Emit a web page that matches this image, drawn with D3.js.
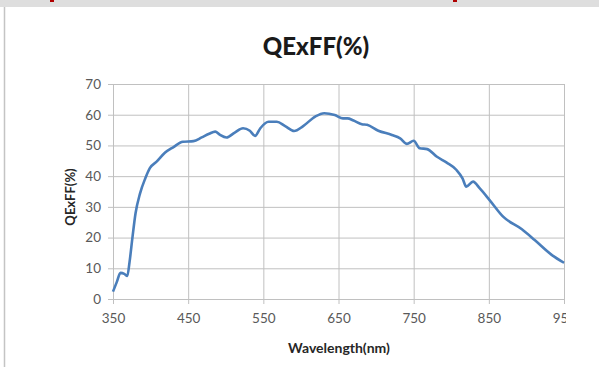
<!DOCTYPE html>
<html>
<head>
<meta charset="utf-8">
<script src="https://cdn.jsdelivr.net/npm/d3@7"></script>
<style>
    body { margin: 0; background: #fff; }
    text { font-family: Lato, "Open Sans", sans-serif; }
</style>
</head>
<body>
<div id="chart"></div>
<script>
// wavelength (nm)
var wavelengths = [350, 355, 360, 365, 369, 372, 376, 380, 386, 393, 399, 408, 419, 430, 443, 457, 468, 478, 486, 492,
    501, 512, 523, 532, 539, 546, 557, 568, 579, 591, 603, 619, 631, 645, 656, 662, 670, 681, 688, 703,
    721, 732, 741, 750, 758, 768, 781, 794, 807, 815, 820, 829, 838, 851, 869, 894, 911, 934, 950];
// QExFF in %
var qeValues = [2.4, 5.5, 8.5, 8.2, 7.5, 12, 20.3, 27.9, 34.4, 39.3, 42.6, 44.7, 47.6, 49.4, 51.2, 51.4, 52.6, 53.8, 54.5, 53.5,
    52.6, 54.2, 55.6, 54.8, 53.1, 55.6, 57.7, 57.7, 56.3, 54.7, 56.3, 59.4, 60.5, 59.9, 58.8, 58.8, 58.1, 56.9, 56.7, 54.8,
    53.4, 52.3, 50.5, 51.5, 49.1, 48.8, 46.3, 44.4, 42.0, 39.3, 36.6, 38.2, 36.0, 32.2, 26.8, 22.7, 19.2, 14.3, 11.8];

var xTicks = [350, 450, 550, 650, 750, 850, 950];
var yTicks = [0, 10, 20, 30, 40, 50, 60, 70];

var chartTitle = "QExFF(%)";
var xTitle = "Wavelength(nm)";
var yTitle = "QExFF(%)";

var data = wavelengths.map(function (w, i) { return { wl: w, qe: qeValues[i] }; });

var W = 599, H = 367;
var margin = { top: 84, right: 35, bottom: 68, left: 113 },
    width = W - margin.left - margin.right,
    height = H - margin.top - margin.bottom;

var root = d3.select("#chart")
    .append("svg")
    .attr("width", W)
    .attr("height", H);

// page chrome: grey strip on top with two red marks, frame line on the left
root.append("rect").attr("x", 0).attr("y", 0).attr("width", W).attr("height", 7).attr("fill", "#dedede");
root.append("rect").attr("x", 50).attr("y", 0).attr("width", 4).attr("height", 2).attr("fill", "#b00000");
root.append("rect").attr("x", 453).attr("y", 0).attr("width", 4).attr("height", 2).attr("fill", "#b00000");
root.append("line").attr("x1", 4.5).attr("x2", 4.5).attr("y1", 7).attr("y2", H)
    .attr("stroke", "#c4c4c4").attr("stroke-width", 1.5);

// picture of the chart is cut a little right of the last gridline
root.append("clipPath").attr("id", "cut")
    .append("rect").attr("x", 0).attr("y", 0).attr("width", 566).attr("height", H);

var svg = root.append("g")
    .attr("clip-path", "url(#cut)")
    .append("g")
    .attr("transform", "translate(" + margin.left + "," + margin.top + ")");

var x = d3.scaleLinear().domain([350, 950]).range([0, width]);
var y = d3.scaleLinear().domain([0, 70]).range([height, 0]);

// Y grid + labels (gridline runs 5px left of the plot as a tick)
var yAxis = svg.append("g")
    .attr("transform", "translate(-5,0)")
    .call(d3.axisLeft(y).tickValues(yTicks).tickSize(-width - 5).tickSizeOuter(0).tickPadding(7));
yAxis.select(".domain").remove();
yAxis.selectAll(".tick line").attr("stroke", "#c0c0c0");
yAxis.selectAll(".tick text").attr("fill", "#595959").style("font-size", "13.5px");

// X grid + labels
var xAxis = svg.append("g")
    .attr("transform", "translate(0," + (height + 5) + ")")
    .call(d3.axisBottom(x).tickValues(xTicks).tickSize(-height - 5).tickSizeOuter(0).tickPadding(9));
xAxis.select(".domain").remove();
xAxis.selectAll(".tick line").attr("stroke", "#c0c0c0");
xAxis.selectAll(".tick text").attr("fill", "#595959").style("font-size", "13.5px");

// the curve
svg.append("path")
    .datum(data)
    .attr("fill", "none")
    .attr("stroke", "#4a7ebb")
    .attr("stroke-width", 2.6)
    .attr("stroke-linejoin", "round")
    .attr("d", d3.line()
        .curve(d3.curveMonotoneX)
        .x(function (d) { return x(d.wl); })
        .y(function (d) { return y(d.qe); })
    );

// titles
root.append("text")
    .attr("x", 316).attr("y", 55)
    .attr("text-anchor", "middle")
    .attr("font-weight", "900")
    .attr("fill", "#1a1a1a")
    .style("font-size", "24px")
    .text(chartTitle);

root.append("text")
    .attr("x", 339).attr("y", 353)
    .attr("text-anchor", "middle")
    .attr("font-weight", "bold")
    .attr("fill", "#262626")
    .style("font-size", "14px")
    .text(xTitle);

root.append("text")
    .attr("transform", "translate(75,197) rotate(-90)")
    .attr("text-anchor", "middle")
    .attr("font-weight", "bold")
    .attr("fill", "#262626")
    .style("font-size", "13px")
    .text(yTitle);
</script>
</body>
</html>
